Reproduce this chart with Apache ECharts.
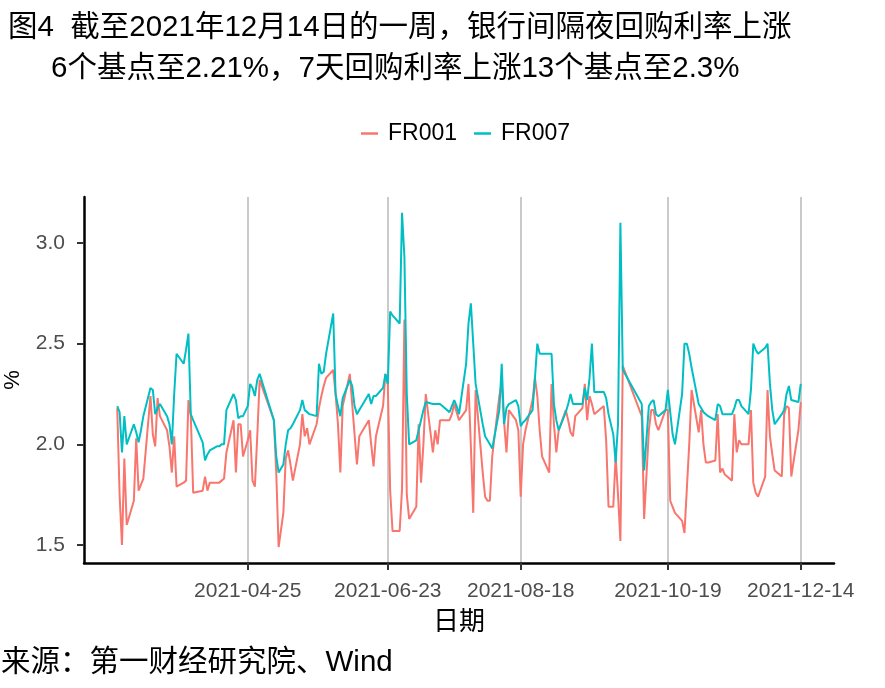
<!DOCTYPE html>
<html>
<head>
<meta charset="utf-8">
<script src="https://cdn.jsdelivr.net/npm/echarts@6/dist/echarts.min.js"></script>
<style>
html,body{margin:0;padding:0;background:#fff;}
#chart{width:885px;height:688px;}
</style>
</head>
<body>
<div id="chart"></div>
<script>
// Trading days (2021-03-01 .. 2021-12-14)
const dates = [
'2021-03-01','2021-03-02','2021-03-03','2021-03-04','2021-03-05','2021-03-08','2021-03-09','2021-03-10','2021-03-11','2021-03-12',
'2021-03-15','2021-03-16','2021-03-17','2021-03-18','2021-03-19','2021-03-22','2021-03-23','2021-03-24','2021-03-25','2021-03-26',
'2021-03-29','2021-03-30','2021-03-31',
'2021-04-01','2021-04-02','2021-04-06','2021-04-07','2021-04-08','2021-04-09','2021-04-12','2021-04-13','2021-04-14','2021-04-15',
'2021-04-16','2021-04-19','2021-04-20','2021-04-21','2021-04-22','2021-04-23','2021-04-25','2021-04-26','2021-04-27','2021-04-28',
'2021-04-29','2021-04-30',
'2021-05-06','2021-05-07','2021-05-08','2021-05-10','2021-05-11','2021-05-12','2021-05-13','2021-05-14','2021-05-17','2021-05-18',
'2021-05-19','2021-05-20','2021-05-21','2021-05-24','2021-05-25','2021-05-26','2021-05-27','2021-05-28','2021-05-31',
'2021-06-01','2021-06-02','2021-06-03','2021-06-04','2021-06-07','2021-06-08','2021-06-09','2021-06-10','2021-06-11','2021-06-15',
'2021-06-16','2021-06-17','2021-06-18','2021-06-21','2021-06-22','2021-06-23','2021-06-24','2021-06-25','2021-06-28','2021-06-29',
'2021-06-30',
'2021-07-01','2021-07-02','2021-07-05','2021-07-06','2021-07-07','2021-07-08','2021-07-09','2021-07-12','2021-07-13','2021-07-14',
'2021-07-15','2021-07-16','2021-07-19','2021-07-20','2021-07-21','2021-07-22','2021-07-23','2021-07-26','2021-07-27','2021-07-28',
'2021-07-29','2021-07-30',
'2021-08-02','2021-08-03','2021-08-04','2021-08-05','2021-08-06','2021-08-09','2021-08-10','2021-08-11','2021-08-12','2021-08-13',
'2021-08-16','2021-08-17','2021-08-18','2021-08-19','2021-08-20','2021-08-23','2021-08-24','2021-08-25','2021-08-26','2021-08-27',
'2021-08-30','2021-08-31',
'2021-09-01','2021-09-02','2021-09-03','2021-09-06','2021-09-07','2021-09-08','2021-09-09','2021-09-10','2021-09-13','2021-09-14',
'2021-09-15','2021-09-16','2021-09-17','2021-09-18','2021-09-22','2021-09-23','2021-09-24','2021-09-26','2021-09-27','2021-09-28',
'2021-09-29','2021-09-30',
'2021-10-08','2021-10-09','2021-10-11','2021-10-12','2021-10-13','2021-10-14','2021-10-15','2021-10-18','2021-10-19','2021-10-20',
'2021-10-21','2021-10-22','2021-10-25','2021-10-26','2021-10-27','2021-10-28','2021-10-29',
'2021-11-01','2021-11-02','2021-11-03','2021-11-04','2021-11-05','2021-11-08','2021-11-09','2021-11-10','2021-11-11','2021-11-12',
'2021-11-15','2021-11-16','2021-11-17','2021-11-18','2021-11-19','2021-11-22','2021-11-23','2021-11-24','2021-11-25','2021-11-26',
'2021-11-29','2021-11-30',
'2021-12-01','2021-12-02','2021-12-03','2021-12-06','2021-12-07','2021-12-08','2021-12-09','2021-12-10','2021-12-13','2021-12-14'
];

const fr001 = [
// Mar
2.18,1.75,1.50,1.93,1.60,1.72,2.03,1.77,1.80,1.83,2.24,2.05,1.99,2.23,2.14,2.07,1.99,1.86,2.04,1.79,1.81,1.82,2.22,
// Apr
2.14,1.76,1.77,1.84,1.77,1.81,1.81,1.81,1.82,1.83,1.96,2.12,1.86,2.10,2.10,1.94,2.02,2.07,1.82,1.79,2.04,2.32,
// May
2.12,1.86,1.49,1.66,1.93,1.97,1.90,1.82,2.00,2.15,2.04,2.08,2.00,2.10,2.18,2.24,2.29,2.33,2.37,
// Jun
2.25,2.10,1.86,2.19,2.35,2.20,2.05,1.90,2.04,2.12,2.00,1.89,2.04,2.19,2.35,2.30,1.77,1.57,1.57,1.78,2.62,
// Jul
1.75,1.63,1.69,2.10,1.81,2.00,2.25,1.96,2.07,2.00,2.12,2.12,2.12,2.15,2.20,2.16,2.12,2.17,2.30,1.99,1.66,2.27,
// Aug
1.86,1.74,1.72,1.72,1.94,2.24,2.30,2.11,1.96,2.17,2.12,2.07,1.74,2.00,2.07,2.22,2.33,2.24,2.07,1.94,1.86,2.30,
// Sep
2.10,1.96,2.07,2.17,2.12,2.06,2.04,2.14,2.18,2.30,2.12,2.24,2.20,2.15,2.19,2.02,1.69,1.69,1.94,1.75,1.52,2.39,
// Oct
2.14,1.63,2.07,2.17,2.17,2.10,2.07,2.17,2.17,1.72,1.69,1.66,1.62,1.56,1.78,2.00,2.27,
// Nov
2.06,2.17,2.00,1.91,1.91,1.92,2.15,1.86,1.88,1.85,1.82,2.15,1.96,2.02,2.00,2.00,2.17,1.81,1.76,1.74,1.84,2.27,
// Dec
2.04,1.95,1.87,1.84,2.15,2.19,2.18,1.84,2.07,2.21
];

const fr007 = [
// Mar
2.19,2.16,1.96,2.14,2.00,2.10,2.06,2.01,2.07,2.14,2.28,2.27,2.15,2.18,2.20,2.14,2.10,2.00,2.25,2.45,2.40,2.47,2.55,
// Apr
2.15,2.12,2.01,1.92,1.95,1.97,1.99,1.99,2.00,2.00,2.17,2.25,2.22,2.13,2.14,2.14,2.19,2.30,2.28,2.24,2.32,2.35,
// May
2.12,1.94,1.86,1.90,2.00,2.07,2.08,2.10,2.17,2.22,2.17,2.16,2.15,2.14,2.40,2.35,2.36,2.45,2.65,
// Jun
2.25,2.19,2.14,2.23,2.32,2.29,2.19,2.15,2.17,2.25,2.20,2.24,2.24,2.28,2.35,2.30,2.66,2.64,2.60,3.15,2.93,
// Jul
2.25,2.00,2.02,2.07,2.12,2.17,2.21,2.20,2.20,2.20,2.20,2.19,2.16,2.19,2.22,2.19,2.15,2.40,2.60,2.70,2.50,2.30,
// Aug
2.10,2.04,2.02,2.00,1.98,2.17,2.40,2.10,2.18,2.20,2.22,2.19,2.09,2.11,2.12,2.17,2.33,2.50,2.45,2.45,2.45,2.45,
// Sep
2.20,2.12,2.07,2.16,2.20,2.25,2.20,2.20,2.20,2.28,2.22,2.33,2.50,2.26,2.26,2.23,2.15,2.05,1.91,2.10,3.10,2.37,
// Oct
2.20,1.87,2.19,2.21,2.22,2.15,2.14,2.17,2.27,2.16,2.05,2.00,2.25,2.50,2.50,2.45,2.38,
// Nov
2.20,2.18,2.16,2.15,2.14,2.12,2.20,2.19,2.15,2.15,2.15,2.18,2.22,2.22,2.19,2.15,2.27,2.50,2.47,2.45,2.48,2.50,
// Dec
2.30,2.17,2.10,2.15,2.17,2.25,2.29,2.22,2.21,2.30
];

const seriesNames = ['FR001', 'FR007'];
const xTickDates = ['2021-04-25','2021-06-23','2021-08-18','2021-10-19','2021-12-14'];
const yTickValues = [1.5, 2.0, 2.5, 3.0];

const titleLine1 = '图4  截至2021年12月14日的一周，银行间隔夜回购利率上涨';
const titleLine2 = '6个基点至2.21%，7天回购利率上涨13个基点至2.3%';
const sourceText = '来源：第一财经研究院、Wind';

const FONT = "'Liberation Sans', Arial, 'Noto Sans CJK SC', sans-serif";

// Calendar-day axis: first date - 14 days .. last date + 14 days (ggplot-style 5% expansion)
function ymd(d) {
  const m = d.getUTCMonth() + 1, dd = d.getUTCDate();
  return d.getUTCFullYear() + '-' + (m < 10 ? '0' : '') + m + '-' + (dd < 10 ? '0' : '') + dd;
}
const PAD_DAYS = 14;
const startD = new Date(dates[0] + 'T00:00:00Z');
const endD = new Date(dates[dates.length - 1] + 'T00:00:00Z');
startD.setUTCDate(startD.getUTCDate() - PAD_DAYS);
endD.setUTCDate(endD.getUTCDate() + PAD_DAYS);
const calendar = [];
for (let d = new Date(startD); d <= endD; d.setUTCDate(d.getUTCDate() + 1)) calendar.push(ymd(d));

const pos = new Map(dates.map((d, i) => [d, i]));
const onCalendar = arr => calendar.map(c => pos.has(c) ? arr[pos.get(c)] : null);
const isTick = (i, v) => xTickDates.indexOf(v) >= 0;
const isYTick = v => yTickValues.some(t => Math.abs(t - v) < 1e-6);

const chart = echarts.init(document.getElementById('chart'), null, {renderer: 'canvas'});
chart.setOption({
  animation: false,
  backgroundColor: '#ffffff',
  title: [
    {text: titleLine1, left: 3, top: 8, textStyle: {fontFamily: FONT, fontSize: 29.5, fontWeight: 'normal', color: '#000'}},
    {text: titleLine2, left: 46, top: 49, textStyle: {fontFamily: FONT, fontSize: 29.5, fontWeight: 'normal', color: '#000'}},
    {text: sourceText, left: -4, top: 643, textStyle: {fontFamily: FONT, fontSize: 29.5, fontWeight: 'normal', color: '#000'}}
  ],
  legend: {
    data: seriesNames,
    left: 356, top: 117,
    icon: 'rect', itemWidth: 17, itemHeight: 2.5, itemGap: 17,
    textStyle: {fontFamily: FONT, fontSize: 23, color: '#000', padding: [0, 0, 0, 5]}
  },
  grid: {left: 84, right: 51, top: 197, bottom: 125, containLabel: false, outerBoundsMode: 'none'},
  xAxis: {
    type: 'category',
    data: calendar,
    boundaryGap: false,
    name: '日期', nameLocation: 'middle', nameGap: 47, nameMoveOverlap: false,
    nameTextStyle: {fontFamily: FONT, fontSize: 26, color: '#000'},
    axisLine: {show: true, lineStyle: {color: '#000', width: 2.5}},
    axisTick: {show: true, length: 7, interval: isTick, lineStyle: {color: '#333', width: 2}},
    axisLabel: {
      show: true, interval: isTick, hideOverlap: false,
      fontFamily: FONT, fontSize: 21, color: '#4D4D4D', margin: 18
    },
    splitLine: {show: true, interval: isTick, lineStyle: {color: '#B8B8B8', width: 1.5}}
  },
  yAxis: {
    type: 'value',
    min: 1.411, max: 3.228, splitNumber: 4,
    name: '%', nameLocation: 'middle', nameGap: 60, nameRotate: 90, nameMoveOverlap: false,
    nameTextStyle: {fontFamily: FONT, fontSize: 22, color: '#000'},
    axisLine: {show: true, lineStyle: {color: '#000', width: 2.5}},
    axisTick: {show: true, length: 7, lineStyle: {color: '#333', width: 2}},
    axisLabel: {
      showMinLabel: false, showMaxLabel: false,
      fontFamily: FONT, fontSize: 21, color: '#4D4D4D', margin: 19,
      formatter: v => (isYTick(v) ? v.toFixed(1) : '')
    },
    splitLine: {show: false}
  },
  series: [
    {
      name: seriesNames[0], type: 'line', showSymbol: false, symbol: 'none', connectNulls: true,
      data: onCalendar(fr001),
      lineStyle: {color: '#F8766D', width: 2}, itemStyle: {color: '#F8766D'}
    },
    {
      name: seriesNames[1], type: 'line', showSymbol: false, symbol: 'none', connectNulls: true,
      data: onCalendar(fr007),
      lineStyle: {color: '#00BFC4', width: 2}, itemStyle: {color: '#00BFC4'}
    }
  ]
});
</script>
</body>
</html>
